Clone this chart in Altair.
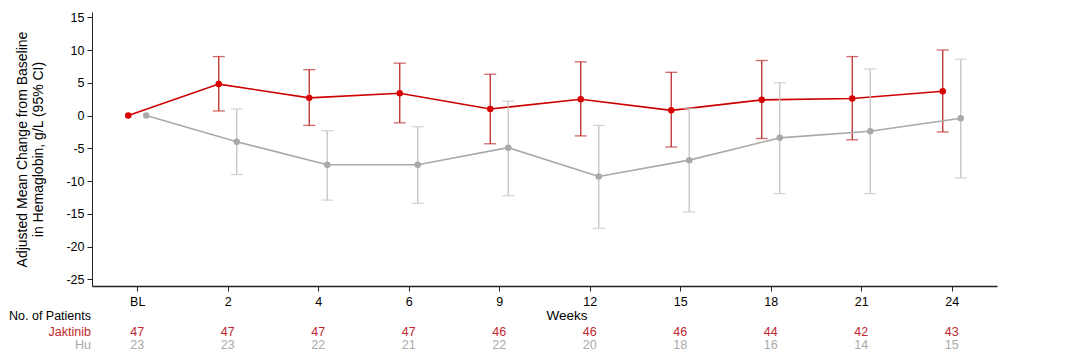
import altair as alt
import pandas as pd

weeks = ["BL", "2", "4", "6", "9", "12", "15", "18", "21", "24"]
jak_mean = [0, 4.8, 2.7, 3.4, 1.0, 2.5, 0.8, 2.4, 2.6, 3.7]
jak_lo = [None, 0.7, -1.5, -1.1, -4.3, -3.1, -4.8, -3.5, -3.7, -2.5]
jak_hi = [None, 9.0, 7.0, 8.0, 6.3, 8.2, 6.6, 8.4, 9.0, 10.0]
hu_mean = [0, -4.0, -7.5, -7.5, -4.9, -9.3, -6.8, -3.4, -2.4, -0.4]
hu_lo = [None, -9.0, -12.9, -13.4, -12.2, -17.2, -14.7, -11.9, -11.9, -9.5]
hu_hi = [None, 1.0, -2.3, -1.7, 2.2, -1.5, 1.1, 5.0, 7.1, 8.6]
jak_n = [47, 47, 47, 47, 46, 46, 46, 44, 42, 43]
hu_n = [23, 23, 22, 21, 22, 20, 18, 16, 14, 15]
y_ticks = [-25, -20, -15, -10, -5, 0, 5, 10, 15]

FONT = "Liberation Sans"
RED_PT = "#d90000"
RED_LINE = "#cc0000"
RED_ERR = "#bf2a2a"
RED_TXT = "#c0282d"
GRAY_PT = "#a9a9a9"
GRAY_LINE = "#a9a9a9"
GRAY_ERR = "#c4c4c4"
GRAY_TXT = "#a9a9a9"

jak = pd.DataFrame({"week": weeks, "mean": jak_mean, "lo": jak_lo, "hi": jak_hi, "n": jak_n})
hu = pd.DataFrame({"week": weeks, "mean": hu_mean, "lo": hu_lo, "hi": hu_hi, "n": hu_n})

xenc = alt.X("week:O", sort=weeks, scale=alt.Scale(type="point", padding=0.5),
             axis=alt.Axis(title=None, labelAngle=0, tickSize=5, labelPadding=4,
                           labelFontSize=12.5, labelColor="black", labelFont=FONT,
                           domainColor="#222", domainWidth=1.5, tickColor="#222"))
yscale = alt.Scale(domain=[-26, 15.8], nice=False, zero=False)
yaxis = alt.Axis(values=y_ticks, tickSize=5, labelFontSize=12.5,
                 labelColor="black", labelFont=FONT, labelPadding=3,
                 labelExpr="datum.value < 0 ? '-' + abs(datum.value) : '' + datum.value",
                 domainColor="#222", tickColor="#222",
                 title=["Adjusted Mean Change from Baseline",
                        "in Hemaglobin, g/L (95% CI)"],
                 titleFont=FONT, titleFontSize=14, titleLineHeight=16.5,
                 titleFontWeight="normal", titleColor="black",
                 titlePadding=20)


def Y(field):
    return alt.Y(field, scale=yscale, axis=yaxis)


def series(df, off, c_line, c_pt, c_err):
    base = alt.Chart(df)
    err = base.transform_filter("datum.lo != null")
    line = base.mark_line(color=c_line, strokeWidth=1.6, xOffset=off).encode(x=xenc, y=Y("mean:Q"))
    rule = err.mark_rule(color=c_err, strokeWidth=1.3, xOffset=off).encode(
        x=xenc, y=Y("lo:Q"), y2="hi:Q")
    tlo = err.mark_tick(color=c_err, size=12, thickness=1.3, xOffset=off).encode(
        x=xenc, y=Y("lo:Q"))
    thi = err.mark_tick(color=c_err, size=12, thickness=1.3, xOffset=off).encode(
        x=xenc, y=Y("hi:Q"))
    pts = base.mark_point(filled=True, color=c_pt, size=42, opacity=1, xOffset=off).encode(
        x=xenc, y=Y("mean:Q"))
    return [line, rule, tlo, thi, pts]


layers = series(jak, -9, RED_LINE, RED_PT, RED_ERR) + \
    series(hu, 9, GRAY_LINE, GRAY_PT, GRAY_ERR)

# patient counts table
jak_txt = alt.Chart(jak).mark_text(font=FONT, fontSize=12.5, color=RED_TXT, baseline="middle").encode(
    x=xenc, y=alt.value(320), text="n:Q")
hu_txt = alt.Chart(hu).mark_text(font=FONT, fontSize=12.5, color=GRAY_TXT, baseline="middle").encode(
    x=xenc, y=alt.value(333), text="n:Q")

labels = pd.DataFrame({"label": ["No. of Patients", "Jaktinib", "Hu"],
                       "ypos": [304, 320, 333],
                       "col": ["black", RED_TXT, GRAY_TXT]})
row_lbl = alt.Chart(labels).mark_text(font=FONT, fontSize=12.5, align="right", baseline="middle").encode(
    x=alt.value(-1), y=alt.Y("ypos:Q", scale=None), text="label:N",
    color=alt.Color("col:N", scale=None))

weeks_title = alt.Chart(pd.DataFrame({"t": ["Weeks"]})).mark_text(
    font=FONT, fontSize=13.5, color="black", baseline="middle").encode(
    x=alt.value(475), y=alt.value(304), text="t:N")

chart = alt.layer(*layers, jak_txt, hu_txt, row_lbl, weeks_title).properties(
    width=905, height=274,
    padding={"left": 84, "top": 4, "right": 20, "bottom": 70},
    autosize=alt.AutoSizeParams(type="none"),
    background="white",
).configure_view(stroke=None).configure_axis(grid=False)

chart.save("out.html", embed_options={"renderer": "svg", "actions": False})
